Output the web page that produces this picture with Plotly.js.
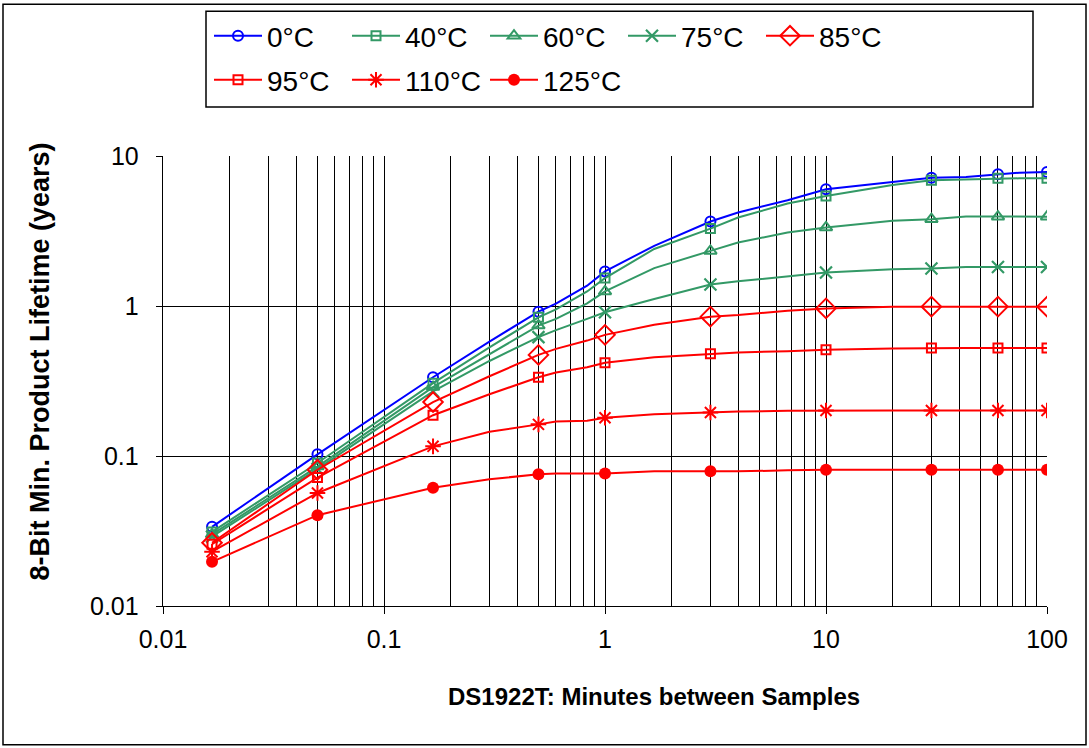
<!DOCTYPE html>
<html><head><meta charset="utf-8">
<script src="https://cdn.plot.ly/plotly-3.0.1.min.js"></script>
<style>html,body{margin:0;padding:0;background:#fff}#chart{width:1089px;height:748px}</style>
</head><body><div id="chart"></div>
<script>
// Minutes between samples (line vertices) and which of them carry a marker
const minutes = [1/60, 0.05, 1/6, 0.3, 0.5, 0.6, 0.83, 1, 1.67, 3, 4, 6.7, 10, 20, 30, 43, 60, 75, 100];
const markerIdx = [0, 1, 2, 4, 7, 9, 12, 14, 16, 18];
const seriesNames = ['0°C', '40°C', '60°C', '75°C', '85°C', '95°C', '110°C', '125°C'];

// Lifetime in years
const life0   = [0.0337, 0.1026, 0.335, 0.579, 0.917, 1.036, 1.365, 1.70, 2.52, 3.66, 4.2, 5.07, 6.0, 6.75, 7.17, 7.25, 7.55, 7.74, 7.83];
const life40  = [0.0312, 0.0898, 0.306, 0.53, 0.84, 0.95, 1.25, 1.535, 2.40, 3.28, 3.89, 4.82, 5.42, 6.4, 6.89, 7.0, 7.1, 7.1, 7.1];
const life60  = [0.030, 0.085, 0.288, 0.48, 0.74, 0.82, 1.04, 1.25, 1.79, 2.33, 2.65, 3.09, 3.34, 3.7, 3.79, 3.95, 3.94, 3.94, 3.94];
const life75  = [0.029, 0.082, 0.270, 0.43, 0.62, 0.69, 0.82, 0.908, 1.114, 1.39, 1.46, 1.57, 1.67, 1.76, 1.78, 1.82, 1.82, 1.82, 1.82];
const life85  = [0.0264, 0.081, 0.229, 0.34, 0.472, 0.518, 0.588, 0.642, 0.751, 0.849, 0.87, 0.93, 0.964, 0.99, 0.99, 0.99, 0.99, 0.99, 0.99];
const life95  = [0.0258, 0.0718, 0.187, 0.258, 0.335, 0.36, 0.39, 0.418, 0.455, 0.48, 0.49, 0.50, 0.51, 0.52, 0.525, 0.525, 0.525, 0.525, 0.525];
const life110 = [0.023, 0.0567, 0.116, 0.145, 0.1625, 0.17, 0.172, 0.18, 0.19, 0.195, 0.198, 0.2, 0.201, 0.201, 0.201, 0.201, 0.201, 0.201, 0.201];
const life125 = [0.0197, 0.0403, 0.0615, 0.07, 0.0755, 0.0765, 0.0765, 0.0765, 0.079, 0.079, 0.079, 0.0802, 0.081, 0.081, 0.081, 0.081, 0.081, 0.081, 0.081];

const xTickVals = [0.01, 0.1, 1, 10, 100];
const xTickText = ['0.01', '0.1', '1', '10', '100'];
const yTickVals = [0.01, 0.1, 1, 10];
const yTickText = ['0.01', '0.1', '1', '10'];

const allSeries = [life0, life40, life60, life75, life85, life95, life110, life125];
const BLUE = '#0000FF', GREEN = '#339966', RED = '#FF0000';
const styles = [
  {color: BLUE,  symbol: 'circle-open',      size: 10, lw: 2, legend: 'legend'},
  {color: GREEN, symbol: 'square-open',      size: 9,  lw: 2, legend: 'legend'},
  {color: GREEN, symbol: 'triangle-up-open', size: 11, lw: 2, legend: 'legend'},
  {color: GREEN, symbol: 'x-thin-open',      size: 12, lw: 2.2, legend: 'legend'},
  {color: RED,   symbol: 'diamond-open',     size: 15, lw: 2, legend: 'legend'},
  {color: RED,   symbol: 'square-open',      size: 9,  lw: 2, legend: 'legend2'},
  {color: RED,   symbol: 'asterisk-open',    size: 13, lw: 2, legend: 'legend2'},
  {color: RED,   symbol: 'circle',           size: 12, lw: 0, legend: 'legend2'}
];

const FONT = 'Liberation Sans, Arial, sans-serif';

const traces = allSeries.map((ys, i) => {
  const s = styles[i];
  return {
    type: 'scatter', mode: 'lines+markers', name: seriesNames[i],
    x: minutes, y: ys, legend: s.legend,
    line: {color: s.color, width: 2},
    marker: {symbol: s.symbol, size: s.size, color: s.color,
             line: {color: s.color, width: s.lw}},
    selectedpoints: markerIdx,
    selected: {marker: {opacity: 1}},
    unselected: {marker: {opacity: 0}},
    hoverinfo: 'x+y+name'
  };
});

const W = 1089, H = 748;
const L = 163, R = 1047, T = 155, B = 606;
const px = v => (v - L) / (R - L);
const py = v => (B - v) / (B - T);

const legendBase = {
  orientation: 'h', xanchor: 'left', yanchor: 'middle',
  bgcolor: 'rgba(0,0,0,0)', borderwidth: 0,
  font: {family: FONT, size: 28, color: '#000'},
  itemwidth: 48, entrywidth: 75, itemsizing: 'trace', traceorder: 'normal'
};

const layout = {
  width: W, height: H,
  margin: {l: L, r: W - R, t: T, b: H - B, pad: 0},
  paper_bgcolor: '#fff', plot_bgcolor: '#fff',
  font: {family: FONT, size: 25, color: '#000'},
  showlegend: true,
  legend: Object.assign({}, legendBase, {x: px(209), y: py(36)}),
  legend2: Object.assign({}, legendBase, {x: px(209), y: py(80)}),
  xaxis: {
    type: 'log', range: [-2, 2], tickmode: 'array', tickvals: xTickVals, ticktext: xTickText,
    showgrid: true, gridcolor: '#000', gridwidth: 1,
    minor: {dtick: 'D1', showgrid: true, gridcolor: '#000', gridwidth: 1, ticks: ''},
    ticks: 'outside', ticklen: 7, tickcolor: '#000', tickwidth: 1,
    showline: true, linecolor: '#000', linewidth: 1.3,
    tickfont: {family: FONT, size: 25, color: '#000'},
    zeroline: false, ticklabelstandoff: 4
  },
  yaxis: {
    type: 'log', range: [-2, 1], tickmode: 'array', tickvals: yTickVals, ticktext: yTickText,
    showgrid: true, gridcolor: '#000', gridwidth: 1,
    ticks: 'outside', ticklen: 6, tickcolor: '#000', tickwidth: 1,
    showline: true, linecolor: '#000', linewidth: 1.3,
    tickfont: {family: FONT, size: 25, color: '#000'},
    zeroline: false, ticklabelstandoff: 12
  },
  annotations: [
    {text: '<b>DS1922T: Minutes between Samples</b>', xref: 'paper', yref: 'paper',
     x: px(654), y: py(697), showarrow: false, xanchor: 'center', yanchor: 'middle',
     font: {family: FONT, size: 24, color: '#000'}},
    {text: '<b>8-Bit Min. Product Lifetime (years)</b>', xref: 'paper', yref: 'paper',
     x: px(40), y: py(361), showarrow: false, xanchor: 'center', yanchor: 'middle', textangle: -90,
     font: {family: FONT, size: 27, color: '#000'}}
  ],
  shapes: [
    {type: 'rect', xref: 'paper', yref: 'paper', x0: px(3), x1: px(1086), y0: py(745), y1: py(3),
     line: {color: '#000', width: 1.5}, fillcolor: 'rgba(0,0,0,0)', layer: 'below'},
    {type: 'rect', xref: 'paper', yref: 'paper', x0: px(206), x1: px(1033), y0: py(106), y1: py(10),
     line: {color: '#000', width: 1.5}, fillcolor: 'rgba(0,0,0,0)'}
  ]
};

Plotly.newPlot('chart', traces, layout, {displayModeBar: false, staticPlot: true});
</script>
</body></html>
